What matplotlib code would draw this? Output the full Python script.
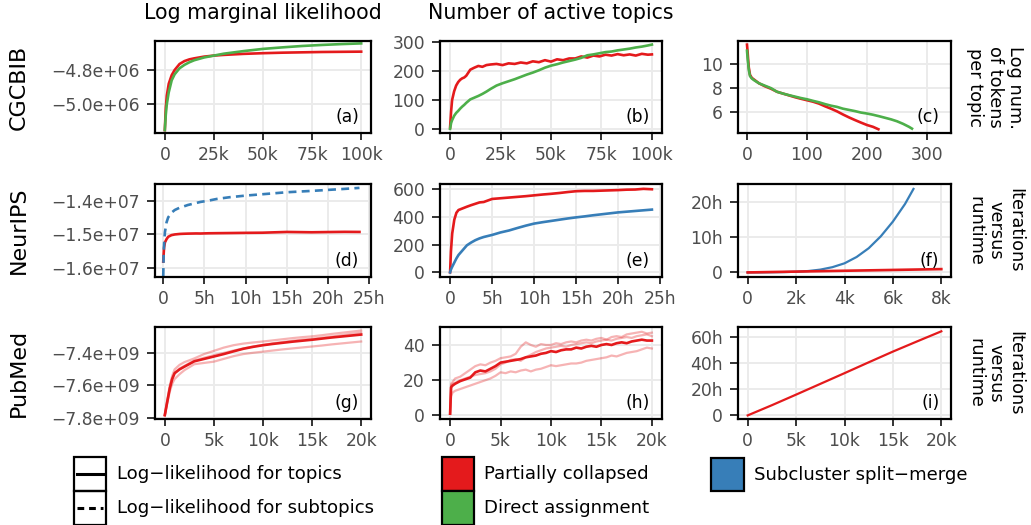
import matplotlib.pyplot as plt
from matplotlib.patches import Rectangle

RED = "#E41A1C"
GREEN = "#4DAF4A"
BLUE = "#377EB8"

# ---- (a) CGCBIB log marginal likelihood vs iterations ----
a_iter = [0, 500, 1000, 2000, 3500, 5000, 7500, 10000, 12500, 15000, 20000, 25000,
          30000, 40000, 50000, 60000, 70000, 80000, 90000, 100000]
a_pc = [-5.15e6, -5.02e6, -4.95e6, -4.88e6, -4.83e6, -4.80e6, -4.765e6, -4.748e6, -4.738e6,
        -4.732e6, -4.722e6, -4.716e6, -4.712e6, -4.706e6, -4.702e6, -4.699e6, -4.697e6,
        -4.695e6, -4.694e6, -4.693e6]
a_da = [-5.15e6, -5.06e6, -5.00e6, -4.93e6, -4.86e6, -4.825e6, -4.79e6, -4.77e6, -4.755e6,
        -4.743e6, -4.727e6, -4.716e6, -4.705e6, -4.69e6, -4.677e6, -4.668e6, -4.66e6,
        -4.654e6, -4.649e6, -4.645e6]

# ---- (b) CGCBIB active topics ----
b_iter = [0, 500, 1000, 2000, 3000, 4000, 5000, 6000, 7000, 8000, 10000, 12000, 14000, 16000,
          18000, 20000, 23000, 26000, 29000, 32000, 35000, 38000, 41000, 44000, 47000, 50000,
          53000, 56000, 59000, 62000, 65000, 68000, 71000, 74000, 77000, 80000, 83000, 86000,
          89000, 92000, 95000, 98000, 100000]
b_pc = [5, 60, 100, 130, 150, 162, 170, 175, 178, 184, 205, 212, 218, 215, 221, 223, 225, 221,
        227, 225, 230, 227, 234, 231, 238, 233, 241, 238, 244, 244, 251, 247, 254, 251, 257,
        254, 259, 255, 258, 254, 260, 257, 258]
b_da = [0, 20, 30, 45, 55, 62, 70, 77, 83, 90, 102, 108, 114, 121, 129, 138, 150, 158, 165,
        172, 180, 188, 195, 203, 212, 219, 224, 230, 235, 240, 246, 255, 258, 262, 266, 268,
        272, 275, 278, 282, 285, 289, 292]

# ---- (c) CGCBIB log number of tokens per topic (sorted) ----
c_rank_pc = [0, 1, 2, 3, 5, 8, 12, 20, 30, 40, 50, 60, 70, 80, 90, 100, 110, 120, 130, 140,
             150, 160, 170, 180, 190, 200, 210, 219]
c_pc = [11.6, 11.0, 10.3, 9.7, 9.1, 8.85, 8.7, 8.4, 8.15, 7.95, 7.7, 7.55, 7.4, 7.25, 7.12,
        7.0, 6.88, 6.72, 6.5, 6.3, 6.08, 5.82, 5.58, 5.36, 5.15, 4.95, 4.8, 4.6]
c_rank_da = [0, 1, 2, 3, 5, 8, 12, 20, 30, 40, 50, 60, 70, 80, 90, 100, 110, 120, 130, 140,
             150, 160, 170, 180, 190, 200, 210, 220, 230, 240, 250, 260, 270, 275]
c_da = [11.1, 10.5, 10.0, 9.5, 9.0, 8.8, 8.65, 8.4, 8.2, 8.0, 7.7, 7.55, 7.42, 7.3, 7.18,
        7.08, 6.95, 6.83, 6.68, 6.55, 6.45, 6.3, 6.2, 6.1, 5.98, 5.9, 5.8, 5.68, 5.55, 5.42,
        5.26, 5.05, 4.8, 4.65]

# ---- (d) NeurIPS log likelihood vs runtime (hours) ----
d_hours = [0, 0.05, 0.1, 0.2, 0.4, 0.6, 1, 1.4, 2, 2.4, 3, 4, 4.5, 5.5, 6.5, 8, 10, 12, 15,
           18, 20, 22, 23.8]
d_pc = [-1.582e7, -1.56e7, -1.54e7, -1.525e7, -1.515e7, -1.508e7, -1.503e7, -1.501e7,
        -1.4995e7, -1.499e7, -1.4985e7, -1.498e7, -1.4982e7, -1.4975e7, -1.4972e7, -1.4968e7,
        -1.4962e7, -1.4958e7, -1.4935e7, -1.4945e7, -1.4938e7, -1.4932e7, -1.4935e7]
d_sub = [-1.625e7, -1.56e7, -1.53e7, -1.495e7, -1.465e7, -1.45e7, -1.436e7, -1.428e7,
         -1.421e7, -1.418e7, -1.413e7, -1.407e7, -1.404e7, -1.40e7, -1.395e7, -1.39e7,
         -1.385e7, -1.381e7, -1.375e7, -1.371e7, -1.368e7, -1.365e7, -1.362e7]

# ---- (e) NeurIPS active topics vs runtime ----
e_hours = [0, 0.1, 0.25, 0.5, 0.75, 1, 1.5, 2, 2.5, 3, 3.5, 4, 5, 6, 7, 8, 9, 10, 11, 12,
           13, 14, 15, 16, 17, 18, 19, 20, 21, 22, 23, 24]
e_pc = [0, 150, 280, 380, 430, 450, 462, 474, 485, 495, 505, 508, 530, 535, 540, 545, 550,
        556, 562, 567, 573, 580, 586, 588, 588, 590, 592, 594, 597, 598, 603, 600]
e_scm = [0, 20, 40, 70, 100, 125, 160, 195, 215, 232, 245, 255, 270, 288, 302, 320, 337,
         352, 362, 371, 380, 389, 397, 404, 412, 419, 426, 433, 438, 443, 448, 453]

# ---- (f) NeurIPS runtime (hours) vs iterations ----
f_iter_scm = [0, 500, 1000, 1500, 2000, 2500, 3000, 3500, 4000, 4500, 5000, 5500, 6000,
              6500, 6850]
f_scm = [0, 0.01, 0.05, 0.1, 0.2, 0.4, 0.8, 1.5, 2.6, 4.4, 6.9, 10.3, 14.5, 19.5, 23.8]
f_iter_pc = [0, 2000, 4000, 6000, 8000]
f_pc = [0, 0.24, 0.48, 0.71, 0.95]

# ---- (g) PubMed log likelihood (mean + three runs) ----
g_iter = [0, 250, 500, 750, 1000, 1500, 2000, 3000, 4000, 5000, 6000, 7000, 8000, 9000,
          10000, 11000, 12000, 13000, 14000, 15000, 16000, 17000, 18000, 19000, 20000]
g_mean = [-7.783e9, -7.70e9, -7.62e9, -7.56e9, -7.524e9, -7.50e9, -7.483e9, -7.45e9,
          -7.435e9, -7.42e9, -7.405e9, -7.388e9, -7.372e9, -7.36e9, -7.35e9, -7.342e9,
          -7.335e9, -7.328e9, -7.322e9, -7.316e9, -7.309e9, -7.302e9, -7.296e9, -7.29e9,
          -7.284e9]
g_run1 = [-7.78e9, -7.69e9, -7.60e9, -7.54e9, -7.50e9, -7.472e9, -7.455e9, -7.432e9,
          -7.405e9, -7.385e9, -7.365e9, -7.35e9, -7.34e9, -7.333e9, -7.327e9, -7.32e9,
          -7.313e9, -7.306e9, -7.3e9, -7.295e9, -7.288e9, -7.28e9, -7.273e9, -7.266e9,
          -7.259e9]
g_run2 = [-7.785e9, -7.70e9, -7.615e9, -7.555e9, -7.52e9, -7.495e9, -7.478e9, -7.445e9,
          -7.428e9, -7.412e9, -7.398e9, -7.383e9, -7.37e9, -7.358e9, -7.348e9, -7.338e9,
          -7.33e9, -7.322e9, -7.315e9, -7.31e9, -7.303e9, -7.296e9, -7.288e9, -7.28e9,
          -7.273e9]
g_run3 = [-7.79e9, -7.71e9, -7.64e9, -7.59e9, -7.56e9, -7.53e9, -7.505e9, -7.468e9,
          -7.46e9, -7.452e9, -7.435e9, -7.418e9, -7.405e9, -7.397e9, -7.39e9, -7.383e9,
          -7.376e9, -7.37e9, -7.364e9, -7.358e9, -7.352e9, -7.345e9, -7.339e9, -7.333e9,
          -7.327e9]

# ---- (h) PubMed active topics (mean + three runs) ----
h_iter = [0, 100, 250, 500, 1000, 1500, 2000, 2500, 3000, 3500, 4000, 4500, 5000, 5500,
          6000, 6500, 7000, 7500, 8000, 8500, 9000, 9500, 10000, 10500, 11000, 11500, 12000,
          12500, 13000, 13500, 14000, 14500, 15000, 15500, 16000, 16500, 17000, 17500,
          18000, 18500, 19000, 19500, 20000]
h_mean = [1, 16, 17, 18, 19.5, 20.5, 21.5, 24.5, 25.5, 25, 26.5, 28, 30, 30.5, 31, 31.5, 32,
          33, 33.5, 34, 35, 35.5, 36.5, 36, 37, 37.5, 37.5, 38.5, 38, 39, 39.5, 39, 40, 40.5,
          40, 41, 41.5, 41, 42, 42.5, 43, 42.5, 42.5]
h_run1 = [1, 18, 19, 21, 22, 24, 26, 28, 29, 28.5, 30, 31, 32.5, 33, 33.5, 35, 39, 41.5, 40,
          39, 40.5, 40, 40, 41, 40.5, 41.5, 42, 41.5, 42.5, 43, 42.5, 43.5, 44, 43, 44.5, 45,
          44.5, 46, 46.5, 47, 47.5, 46.5, 47]
h_run2 = [1, 17, 18, 18.5, 20, 21, 22, 23, 23.5, 24, 25, 26.5, 29, 30, 31.5, 32, 31, 33,
          34.5, 36, 37, 38, 38.5, 39, 39.5, 39, 40, 40.5, 41, 41.5, 41, 42, 42.5, 43, 42.5,
          43.5, 44, 44.5, 44, 45, 45.5, 46, 45]
h_run3 = [1, 11, 13, 14, 15, 16, 17, 18, 19, 20, 21, 22.5, 24.5, 24, 25, 24.5, 25.5, 26, 25,
          26, 26.5, 27.5, 28.5, 28, 28.5, 29, 29.5, 29.5, 30, 31, 31.5, 32, 32.5, 33, 34,
          33.5, 34.5, 35.5, 36, 36.5, 37.5, 38.5, 38]

# ---- (i) PubMed runtime vs iterations ----
i_iter = [0, 2500, 5000, 7500, 10000, 12500, 15000, 17500, 20000]
i_pc = [0, 7.8, 15.9, 24.1, 32.3, 40.6, 48.8, 56.6, 64.3]

# tick values / labels
k100_ticks = [0, 25000, 50000, 75000, 100000]
k100_labels = ["0", "25k", "50k", "75k", "100k"]
h25_ticks = [0, 5, 10, 15, 20, 25]
h25_labels = ["0", "5h", "10h", "15h", "20h", "25h"]
k20_ticks = [0, 5000, 10000, 15000, 20000]
k20_labels = ["0", "5k", "10k", "15k", "20k"]
k8_ticks = [0, 2000, 4000, 6000, 8000]
k8_labels = ["0", "2k", "4k", "6k", "8k"]

plt.rcParams["font.family"] = ["DejaVu Sans"]
fig = plt.figure(figsize=(10.31, 5.25), dpi=100)

W, H = 1031, 525
cols = [(155, 371), (440, 662), (738, 951)]
rows = [(41, 133), (184, 277), (327, 419)]


def make_ax(r, c):
    x0, x1 = cols[c]
    y0, y1 = rows[r]
    ax = fig.add_axes([x0 / W, 1 - y1 / H, (x1 - x0) / W, (y1 - y0) / H])
    ax.grid(True, color="#EBEBEB", lw=1.4)
    ax.set_axisbelow(True)
    for s in ax.spines.values():
        s.set_linewidth(1.6)
        s.set_color("black")
    ax.tick_params(axis="both", colors="#333333", labelcolor="#4D4D4D", labelsize=12.3,
                   width=1.4)
    ax.tick_params(axis="y", length=5.8, pad=5)
    ax.tick_params(axis="x", length=5.0, pad=4)
    return ax


def tag(ax, s):
    ax.text(0.945, 0.17, s, transform=ax.transAxes, ha="right", va="center",
            fontsize=12.3, color="black")


LW = 1.9

ax = make_ax(0, 0)
ax.plot(a_iter, a_pc, color=RED, lw=LW)
ax.plot(a_iter, a_da, color=GREEN, lw=LW)
ax.set_xlim(-5000, 105000)
ax.set_ylim(-5.167e6, -4.631e6)
ax.set_xticks(k100_ticks, k100_labels)
ax.set_yticks([-5.0e6, -4.8e6], ["\u22125.0e+06", "\u22124.8e+06"])
tag(ax, "(a)")

ax = make_ax(0, 1)
ax.plot(b_iter, b_pc, color=RED, lw=LW)
ax.plot(b_iter, b_da, color=GREEN, lw=LW)
ax.set_xlim(-5000, 105000)
ax.set_ylim(-14.5, 304.5)
ax.set_xticks(k100_ticks, k100_labels)
ax.set_yticks([0, 100, 200, 300])
tag(ax, "(b)")

ax = make_ax(0, 2)
ax.plot(c_rank_pc, c_pc, color=RED, lw=LW)
ax.plot(c_rank_da, c_da, color=GREEN, lw=LW)
ax.set_xlim(-15, 340)
ax.set_ylim(4.29, 11.9)
ax.set_xticks([0, 100, 200, 300])
ax.set_yticks([6, 8, 10])
tag(ax, "(c)")

ax = make_ax(1, 0)
ax.plot(d_hours, d_pc, color=RED, lw=LW)
ax.plot(d_hours, d_sub, color=BLUE, lw=LW, ls=(0, (3, 2)))
ax.set_xlim(-1.0, 25.2)
ax.set_ylim(-1.628e7, -1.3504e7)
ax.set_xticks(h25_ticks, h25_labels)
ax.set_yticks([-1.6e7, -1.5e7, -1.4e7], ["\u22121.6e+07", "\u22121.5e+07", "\u22121.4e+07"])
tag(ax, "(d)")

ax = make_ax(1, 1)
ax.plot(e_hours, e_pc, color=RED, lw=LW)
ax.plot(e_hours, e_scm, color=BLUE, lw=LW)
ax.set_xlim(-1.2, 25.2)
ax.set_ylim(-34, 638)
ax.set_xticks(h25_ticks, h25_labels)
ax.set_yticks([0, 200, 400, 600])
tag(ax, "(e)")

ax = make_ax(1, 2)
ax.plot(f_iter_scm, f_scm, color=BLUE, lw=1.6)
ax.plot(f_iter_pc, f_pc, color=RED, lw=1.9)
ax.set_xlim(-400, 8400)
ax.set_ylim(-1.3, 25.2)
ax.set_xticks(k8_ticks, k8_labels)
ax.set_yticks([0, 10, 20], ["0", "10h", "20h"])
tag(ax, "(f)")

ax = make_ax(2, 0)
for run in (g_run1, g_run2, g_run3):
    ax.plot(g_iter, run, color=RED, alpha=0.33, lw=1.6)
ax.plot(g_iter, g_mean, color=RED, lw=LW)
ax.set_xlim(-1000, 21000)
ax.set_ylim(-7.808e9, -7.237e9)
ax.set_xticks(k20_ticks, k20_labels)
ax.set_yticks([-7.8e9, -7.6e9, -7.4e9], ["\u22127.8e+09", "\u22127.6e+09", "\u22127.4e+09"])
tag(ax, "(g)")

ax = make_ax(2, 1)
for run in (h_run1, h_run2, h_run3):
    ax.plot(h_iter, run, color=RED, alpha=0.33, lw=1.6)
ax.plot(h_iter, h_mean, color=RED, lw=LW)
ax.set_xlim(-1000, 21000)
ax.set_ylim(-2, 50.2)
ax.set_xticks(k20_ticks, k20_labels)
ax.set_yticks([0, 20, 40])
tag(ax, "(h)")

ax = make_ax(2, 2)
ax.plot(i_iter, i_pc, color=RED, lw=1.6)
ax.set_xlim(-1000, 21000)
ax.set_ylim(-2.75, 67.6)
ax.set_xticks(k20_ticks, k20_labels)
ax.set_yticks([0, 20, 40, 60], ["0", "20h", "40h", "60h"])
tag(ax, "(i)")

# overlay in pixel coordinates for titles, strip labels and legend
ov = fig.add_axes([0, 0, 1, 1], zorder=-1)
ov.set_xlim(0, W)
ov.set_ylim(H, 0)
ov.axis("off")

ov.text(263, 13, "Log marginal likelihood", ha="center", va="center", fontsize=14.8)
ov.text(551, 13, "Number of active topics", ha="center", va="center", fontsize=14.8)

for name, (y0, y1) in zip(["CGCBIB", "NeurIPS", "PubMed"], rows):
    ov.text(19, (y0 + y1) / 2, name, rotation=90, ha="center", va="center", fontsize=16)

right_labels = ["Log num.\nof tokens\nper topic", "Iterations\nversus\nruntime",
                "Iterations\nversus\nruntime"]
for name, (y0, y1) in zip(right_labels, rows):
    ov.text(995, (y0 + y1) / 2, name, rotation=-90, ha="center", va="center",
            fontsize=12.8, linespacing=1.15, multialignment="center")

# legend: line types
lt_labels = ["Log\u2212likelihood for topics", "Log\u2212likelihood for subtopics"]
lt_styles = ["-", (0, (2.2, 1.6))]
for k, (lab, st) in enumerate(zip(lt_labels, lt_styles)):
    top = 457 + 34 * k
    ov.add_patch(Rectangle((74, top), 32, 34, fill=False, ec="black", lw=1.6))
    ov.plot([77, 103], [top + 17, top + 17], color="black", lw=2.2, ls=st)
    ov.text(117, top + 17, lab, ha="left", va="center", fontsize=13.1)

# legend: methods
m_labels = ["Partially collapsed", "Direct assignment"]
m_colors = [RED, GREEN]
for k, (lab, col) in enumerate(zip(m_labels, m_colors)):
    top = 457 + 34 * k
    ov.add_patch(Rectangle((442, top), 32, 34, fc=col, ec="black", lw=1.6))
    ov.text(484, top + 17, lab, ha="left", va="center", fontsize=13.1)

ov.add_patch(Rectangle((711, 458), 33, 33, fc=BLUE, ec="black", lw=1.6))
ov.text(754, 474.5, "Subcluster split\u2212merge", ha="left", va="center", fontsize=13.1)

fig.savefig("out.png", dpi=100)
